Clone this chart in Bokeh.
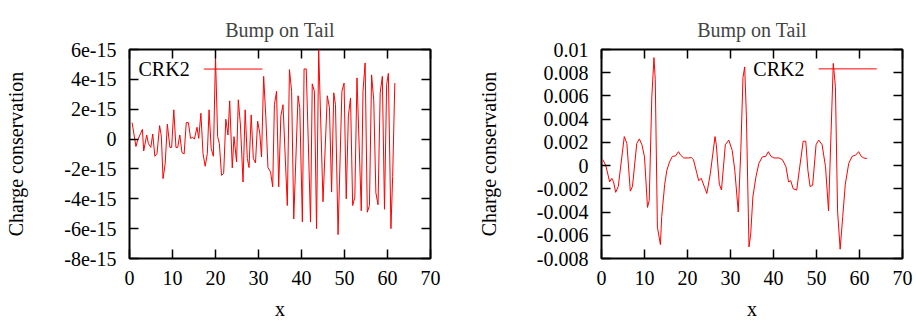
from bokeh.plotting import figure
from bokeh.models import Range1d, FixedTicker, LinearAxis, CustomJSTickFormatter, Label
from bokeh.layouts import row
from bokeh.embed import file_html
from bokeh.resources import INLINE

# ---------------- data ----------------
# Left panel: charge conservation error (units of 1e-15)
left_x = [0.6, 1.5, 1.9, 3.0, 3.3, 4.0, 4.4, 4.96, 5.4, 5.9, 6.4, 7.0, 7.4, 7.8, 8.3, 8.8,
          9.4, 9.8, 10.3, 10.8, 11.2, 11.7, 12.2, 12.7, 13.2, 13.7, 14.2, 14.7, 15.1, 15.7,
          16.1, 16.6, 17.1, 17.6, 18.1, 18.5, 19.0, 19.5, 20.0, 20.5, 20.9, 21.4, 21.9, 22.4,
          22.9, 23.3, 23.9, 24.3, 24.9, 25.3, 25.8, 26.4, 26.9, 27.4, 27.8, 28.3, 28.8, 29.3,
          29.8, 30.3, 30.7, 31.2, 31.7, 32.2, 32.8, 33.3, 33.7, 34.2, 34.7, 35.2, 35.7, 36.7,
          37.2, 37.7, 38.2, 39.2, 39.6, 40.2, 40.6, 41.1, 42.1, 42.5, 43.0, 43.5, 44.0, 45.0,
          46.0, 46.5, 47.0, 47.5, 47.9, 48.5, 49.4, 49.9, 50.4, 50.9, 51.4, 51.9, 52.4, 52.9,
          53.9, 54.3, 54.8, 55.3, 55.8, 56.3, 56.8, 57.3, 57.8, 58.3, 58.8, 59.3, 59.8, 60.2,
          60.8, 61.2, 61.7]
left_y = [1.1, -0.5, -0.07, 0.65, -0.8, 0.27, -0.3, -0.56, 0.34, -1.15, -0.97, 0.9, 0.2, -2.65,
          -1.64, 1.0, -0.56, -0.56, 1.96, -0.56, -0.56, 0.27, -0.9, -1.0, 1.1, 1.1, 0.05, 0.11,
          0.0, 0.79, 0.05, 1.73, -0.97, -1.82, -0.97, 1.96, -0.63, -1.15, 5.5, 0.16, -0.3, -2.43,
          -2.3, 1.33, 0.27, 2.56, -1.93, 0.16, -1.53, 2.63, 0.94, -2.88, 1.96, -1.3, -1.91, 1.62,
          -1.3, -1.6, 1.2, 0.4, -1.2, 4.2, 1.5, -1.9, -2.2, -3.2, 2.3, 3.2, -3.2, 1.55, 2.3,
          -4.45, 4.65, 3.2, -5.35, 2.9, 2.1, -5.55, 4.7, 4.7, -5.55, 3.7, 3.2, -6.0, 6.0, -4.2,
          2.9, 2.1, -3.55, 3.1, 2.3, -6.4, 3.2, 3.75, -4.0, 1.55, 2.75, -4.45, -3.9, 4.1,
          -4.8, 3.2, 5.1, -4.9, -4.45, 4.3, 2.6, -3.6, -4.4, 3.1, 4.2, -4.7, 3.65, 4.4,
          -6.0, -2.5, 3.75]

# Right panel: charge conservation
right_x = [0.3, 1.0, 1.9, 2.4, 2.8, 3.3, 3.9, 5.3, 5.9, 6.7, 7.2, 8.2, 8.8, 9.4, 10.0, 10.7,
           11.1, 11.7, 12.2, 12.5, 13.0, 13.7, 14.0, 14.7, 15.2, 15.8, 16.5, 17.2, 17.9, 18.4,
           19.1, 20.3, 20.9, 21.4, 22.2, 22.6, 23.2, 23.6, 24.5, 25.3, 26.4, 26.7, 27.4, 27.9,
           28.8, 29.6, 30.4, 31.0, 31.8, 32.4, 32.9, 33.3, 33.7, 34.3, 34.7, 35.2, 35.9, 36.6,
           37.4, 38.2, 38.8, 39.4, 40.1, 41.3, 42.1, 42.9, 43.5, 44.0, 44.6, 45.4, 46.0, 46.9,
           47.5, 48.0, 48.5, 49.1, 49.9, 50.5, 51.3, 52.1, 52.8, 53.4, 53.9, 54.4, 54.9, 55.5,
           56.1, 56.7, 57.5, 58.3, 59.1, 59.8, 60.4, 61.0, 61.7]
right_y = [0.00052, 0.0, -0.0014, -0.0011, -0.0014, -0.0023, -0.0018, 0.0025, 0.0019, -0.0022,
           -0.0018, 0.0019, 0.0023, 0.0018, 0.00075, -0.0036, -0.003, 0.0059, 0.0093, 0.0074,
           -0.0053, -0.0068, -0.0044, -0.0016, -0.0004, 0.0003, 0.0008, 0.00083, 0.0012, 0.0009,
           0.00066, 0.00066, 0.0007, 0.0005, -0.0007, -0.0013, -0.0011, -0.0015, -0.0024, -0.0007,
           0.0025, 0.0018, -0.0016, -0.0021, 0.0018, 0.0022, 0.0013, -0.0004, -0.004, 0.0013,
           0.0076, 0.0085, 0.0042, -0.007, -0.0059, -0.0027, -0.001, 0.0002, 0.00075, 0.0008,
           0.0012, 0.0008, 0.00066, 0.00066, 0.0005, -0.0001, -0.0014, -0.0013, -0.002, -0.0021,
           -0.0004, 0.0021, 0.0021, -0.0004, -0.0018, -0.0017, 0.0018, 0.0022, 0.0018, -0.0001,
           -0.0039, 0.003, 0.0088, 0.0068, -0.0039, -0.0072, -0.0044, -0.0016, 0.0002, 0.0008,
           0.0009, 0.0012, 0.0008, 0.00066, 0.0006]

x_ticks = [0, 10, 20, 30, 40, 50, 60, 70]
left_y_ticks = [-8, -6, -4, -2, 0, 2, 4, 6]
right_y_ticks = [-0.008, -0.006, -0.004, -0.002, 0.0, 0.002, 0.004, 0.006, 0.008, 0.01]

title_text = "Bump on Tail"
x_label = "x"
y_label = "Charge conservation"
series_name = "CRK2"

FONT = "Liberation Serif"
FS = "20px"
RED = "#ff0000"


def mirror_axis(ticks):
    return LinearAxis(ticker=FixedTicker(ticks=ticks),
                      formatter=CustomJSTickFormatter(code='return "";'),
                      major_label_text_font=FONT, major_label_text_font_size=FS,
                      major_label_standoff=0, axis_line_color=None, major_tick_in=9,
                      major_tick_out=0, major_tick_line_width=1.5, minor_tick_line_color=None)


def make_fig(xs, ys, y_range, y_ticks, y_fmt, border_left, border_right, legend_pos):
    p = figure(frame_width=301, frame_height=209, output_backend="svg", toolbar_location=None,
               x_range=Range1d(0, 70), y_range=Range1d(*y_range),
               min_border_left=border_left, min_border_right=border_right,
               min_border_top=49, min_border_bottom=63,
               background_fill_color="white", border_fill_color="white")
    p.xgrid.visible = False
    p.ygrid.visible = False
    p.outline_line_color = "black"
    p.outline_line_width = 2

    for ax in (p.xaxis[0], p.yaxis[0]):
        ax.axis_line_color = None
        ax.major_tick_in = 9
        ax.major_tick_out = 0
        ax.major_tick_line_width = 1.5
        ax.minor_tick_line_color = None
        ax.major_label_text_font = FONT
        ax.major_label_text_font_size = FS
        ax.major_label_text_color = "black"
        ax.axis_label_text_font = FONT
        ax.axis_label_text_font_size = FS
        ax.axis_label_text_font_style = "normal"
        ax.axis_label_text_color = "black"

    p.xaxis.ticker = FixedTicker(ticks=x_ticks)
    p.xaxis.axis_label = x_label
    p.xaxis.major_label_standoff = 12
    p.xaxis.axis_label_standoff = 10

    p.yaxis.ticker = FixedTicker(ticks=y_ticks)
    p.yaxis.formatter = CustomJSTickFormatter(code=y_fmt)
    p.yaxis.axis_label = y_label
    p.yaxis.major_label_standoff = 13
    p.yaxis.axis_label_standoff = 34

    p.add_layout(mirror_axis(x_ticks), "above")
    p.add_layout(mirror_axis(y_ticks), "right")

    p.title.text = title_text
    p.title.text_font = FONT
    p.title.text_font_size = FS
    p.title.text_font_style = "normal"
    p.title.align = "center"
    p.title.vertical_align = "top"
    p.title.standoff = 13

    p.line(xs, ys, line_color=RED, line_width=1)

    # gnuplot-style key: label text, then sample line
    lx, ly, sx0, sx1, sy = legend_pos
    p.add_layout(Label(x=lx, y=ly, text=series_name, text_font=FONT, text_font_size=FS,
                       text_color="black", text_baseline="middle"))
    p.segment(x0=[sx0], y0=[sy], x1=[sx1], y1=[sy], line_color=RED, line_width=1)
    return p


left_fmt = 'return tick == 0 ? "0" : tick.toFixed(0) + "e-15";'
right_fmt = 'const v = Math.round(tick * 1000) / 1000; return v == 0 ? "0" : String(v);'

p1 = make_fig(left_x, left_y, (-8, 6), left_y_ticks, left_fmt, 129, 28,
              (2.1, 4.69, 17.3, 30.9, 4.69))
p2 = make_fig(right_x, right_y, (-0.008, 0.01), right_y_ticks, right_fmt, 143, 14,
              (35.3, 0.00833, 50.5, 64.0, 0.00833))

layout = row(p1, p2)
open("out.html", "w").write(file_html(layout, INLINE))
